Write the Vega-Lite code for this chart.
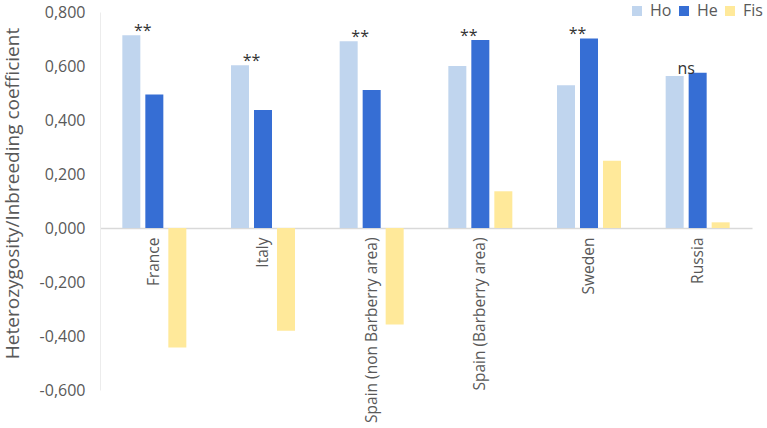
{
  "$schema": "https://vega.github.io/schema/vega-lite/v6.json",
  "width": 652,
  "height": 378,
  "autosize": {"type": "none"},
  "padding": {"left": 100, "top": 12, "right": 15, "bottom": 38},
  "background": "white",
  "config": {
    "locale": {"number": {"decimal": ",", "thousands": ".", "grouping": [3], "currency": ["", " €"], "minus": "-"}},
    "view": {"stroke": null},
    "font": "Open Sans"
  },
  "datasets": {
    "bars": [
      {"country": "France", "series": "Ho", "value": 0.714},
      {"country": "France", "series": "He", "value": 0.494},
      {"country": "France", "series": "Fis", "value": -0.443},
      {"country": "Italy", "series": "Ho", "value": 0.603},
      {"country": "Italy", "series": "He", "value": 0.437},
      {"country": "Italy", "series": "Fis", "value": -0.381},
      {"country": "Spain (non Barberry area)", "series": "Ho", "value": 0.692},
      {"country": "Spain (non Barberry area)", "series": "He", "value": 0.511},
      {"country": "Spain (non Barberry area)", "series": "Fis", "value": -0.357},
      {"country": "Spain (Barberry area)", "series": "Ho", "value": 0.600},
      {"country": "Spain (Barberry area)", "series": "He", "value": 0.696},
      {"country": "Spain (Barberry area)", "series": "Fis", "value": 0.136},
      {"country": "Sweden", "series": "Ho", "value": 0.529},
      {"country": "Sweden", "series": "He", "value": 0.702},
      {"country": "Sweden", "series": "Fis", "value": 0.249},
      {"country": "Russia", "series": "Ho", "value": 0.563},
      {"country": "Russia", "series": "He", "value": 0.575},
      {"country": "Russia", "series": "Fis", "value": 0.021}
    ],
    "notes": [
      {"country": "France", "label": "**", "top": 0.714},
      {"country": "Italy", "label": "**", "top": 0.603},
      {"country": "Spain (non Barberry area)", "label": "**", "top": 0.692},
      {"country": "Spain (Barberry area)", "label": "**", "top": 0.696},
      {"country": "Sweden", "label": "**", "top": 0.702},
      {"country": "Russia", "label": "ns", "top": 0.575}
    ]
  },
  "layer": [
    {
      "data": {"name": "bars"},
      "mark": {"type": "bar"},
      "encoding": {
        "x": {
          "field": "country", "type": "nominal",
          "sort": ["France", "Italy", "Spain (non Barberry area)", "Spain (Barberry area)", "Sweden", "Russia"],
          "scale": {"paddingInner": 0.411, "paddingOuter": 0.2055},
          "axis": {
            "title": null, "labelAngle": -90, "labelAlign": "right", "labelBaseline": "middle",
            "offset": -162, "ticks": false, "labelPadding": 9, "labelFontSize": 15.5,
            "labelColor": "#595959", "domainColor": "#d9d9d9", "domainWidth": 1.5, "labelLimit": 300
          }
        },
        "xOffset": {"field": "series", "type": "nominal", "sort": ["Ho", "He", "Fis"], "scale": {"paddingInner": 0.217, "paddingOuter": 0}},
        "y": {
          "field": "value", "type": "quantitative",
          "scale": {"domain": [-0.6, 0.8], "nice": false, "zero": true},
          "axis": {
            "values": [-0.6, -0.4, -0.2, 0, 0.2, 0.4, 0.6, 0.8], "format": ".3f",
            "grid": false, "ticks": false, "labelPadding": 15, "labelFontSize": 16, "labelColor": "#595959",
            "domainColor": "#ececec",
            "title": "Heterozygosity/Inbreeding coefficient", "titleFontSize": 19, "titleFontWeight": "normal",
            "titleColor": "#595959", "titleX": -78, "titleY": 181, "titleAngle": -90, "titleAlign": "center", "titleBaseline": "bottom"
          }
        },
        "color": {
          "field": "series", "type": "nominal",
          "scale": {"domain": ["Ho", "He", "Fis"], "range": ["#C0D5EE", "#366ED4", "#FFE99A"]},
          "legend": {
            "title": null, "orient": "none", "legendX": 529, "legendY": -9, "direction": "horizontal",
            "symbolType": "square", "symbolSize": 100, "symbolStrokeWidth": 0, "labelFontSize": 16,
            "labelColor": "#595959", "columnPadding": 4, "labelOffset": 5
          }
        }
      }
    },
    {
      "data": {"name": "notes"},
      "mark": {"type": "text", "dx": -11.5, "dy": 1, "baseline": "alphabetic", "fontSize": 16, "color": "#333333"},
      "encoding": {
        "x": {"field": "country", "type": "nominal", "sort": ["France", "Italy", "Spain (non Barberry area)", "Spain (Barberry area)", "Sweden", "Russia"]},
        "y": {"field": "top", "type": "quantitative"},
        "text": {"field": "label"}
      }
    }
  ]
}
